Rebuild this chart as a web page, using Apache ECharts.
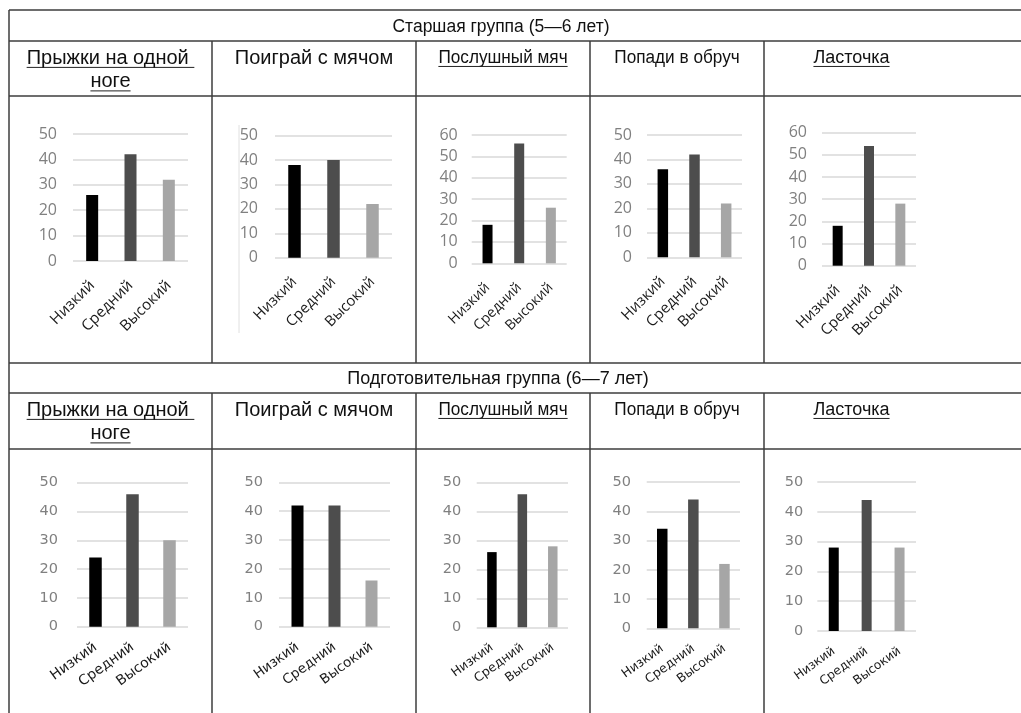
<!DOCTYPE html>
<html><head><meta charset="utf-8">
<script src="https://cdn.jsdelivr.net/npm/echarts@6/dist/echarts.min.js"></script>
<style>html,body{margin:0;padding:0;background:#fff}#c{width:1021px;height:713px}</style>
</head><body><div id="c"></div>
<script>
// ---- data ----
const categories = ['Низкий', 'Средний', 'Высокий'];
const groupTitles = ['Старшая группа (5—6 лет)', 'Подготовительная группа (6—7 лет)'];
const gameTitles = [['Прыжки на одной ', 'ноге'], ['Поиграй с мячом'], ['Послушный мяч'], ['Попади в обруч'], ['Ласточка']];
const gameUnderlined = [true, false, true, false, true];
const olderValues = [[26, 42, 32], [38, 40, 22], [18, 56, 26], [36, 42, 22], [18, 54, 28]];
const prepValues  = [[24, 46, 30], [42, 42, 16], [26, 46, 28], [34, 44, 22], [28, 44, 28]];
const olderMax = [50, 50, 60, 50, 60];
const prepMax  = [50, 50, 50, 50, 50];
const yInterval = 10;

// ---- layout / style ----
const barColors = ['#000000', '#4d4d4d', '#a6a6a6'];
const gridsTop = [
  {left: 73, top: 134, width: 115, height: 127, bw: 12, lm: 16, cf: 15.2},
  {left: 275, top: 135.7, width: 117, height: 122, bw: 12.5, lm: 17, cf: 14.8},
  {left: 471.7, top: 135, width: 95, height: 128.3, bw: 10, lm: 14, cf: 14.2},
  {left: 647, top: 135, width: 95, height: 122.3, bw: 10.5, lm: 15, cf: 15},
  {left: 822, top: 132.7, width: 94, height: 133, bw: 10, lm: 15, cf: 15}
];
const gridsBottom = [
  {left: 77, top: 482.7, width: 111, height: 144, bw: 12.5, lm: 19, cf: 14},
  {left: 279, top: 482.3, width: 111, height: 144.4, bw: 12, lm: 16, cf: 13.5},
  {left: 476.7, top: 482.7, width: 91.3, height: 144.6, bw: 9.5, lm: 15.5, cf: 12.5},
  {left: 646.7, top: 482, width: 93.3, height: 146.3, bw: 10.5, lm: 15.7, cf: 12.5},
  {left: 817.3, top: 482, width: 98.7, height: 149, bw: 10, lm: 14, cf: 12.2}
];
const colX = [9, 212, 416, 590, 764];
const colCenters = [110.5, 314, 503, 677, 851.5];
const titleFont = [20, 20, 18, 18, 18];
const titleScale = [1, 1, 0.955, 0.955, 1];
const lineColor = '#3c3c3c';

const grid = [], xAxis = [], yAxis = [], series = [];
function addChart(g, values, max, bottom) {
  const i = grid.length;
  grid.push({left: g.left, top: g.top, width: g.width, height: g.height, containLabel: false, outerBoundsMode: 'none'});
  xAxis.push({
    type: 'category', gridIndex: i, data: categories,
    axisLine: {show: false}, axisTick: {show: false},
    axisLabel: {
      interval: 0, rotate: bottom ? 36 : 45, margin: bottom ? 19 : 22,
      color: '#1a1a1a',
      fontFamily: bottom ? 'DejaVu Sans' : 'Open Sans',
      fontSize: g.cf
    }
  });
  yAxis.push({
    type: 'value', gridIndex: i, min: 0, max: max, interval: yInterval,
    axisLine: {show: false}, axisTick: {show: false},
    splitLine: {lineStyle: {color: '#d9d9d9', width: 1.5}},
    axisLabel: {
      margin: g.lm, color: '#808080',
      fontFamily: bottom ? 'DejaVu Sans' : 'Open Sans',
      fontSize: bottom ? 14.5 : 16
    }
  });
  series.push({
    type: 'bar', xAxisIndex: i, yAxisIndex: i, barWidth: g.bw,
    data: values.map((v, k) => ({value: v, itemStyle: {color: barColors[k]}})),
    silent: true
  });
}
gridsTop.forEach((g, k) => addChart(g, olderValues[k], olderMax[k], false));
gridsBottom.forEach((g, k) => addChart(g, prepValues[k], prepMax[k], true));

// ---- table graphics ----
const graphic = [];
const mctx = document.createElement('canvas').getContext('2d');
function hline(y) {
  graphic.push({type: 'line', shape: {x1: 9, y1: y, x2: 1021, y2: y}, style: {stroke: lineColor, lineWidth: 1.5}, silent: true});
}
function vline(x, y1, y2, color, w) {
  graphic.push({type: 'line', shape: {x1: x, y1: y1, x2: x, y2: y2}, style: {stroke: color || lineColor, lineWidth: w || 1.5}, silent: true});
}
function text(str, x, y, size, sx, underline) {
  const font = size + 'px "Liberation Sans"';
  graphic.push({type: 'text', x: x, y: y, scaleX: sx, silent: true,
    style: {text: str, font: font, fill: '#111', align: 'center', verticalAlign: 'middle'}});
  if (underline) {
    mctx.font = font;
    const w = mctx.measureText(str).width * sx;
    graphic.push({type: 'line', shape: {x1: x - w / 2, y1: y + size * 0.47, x2: x + w / 2, y2: y + size * 0.47},
      style: {stroke: '#222', lineWidth: 1}, silent: true});
  }
}
const blocks = [{top: 10, head: 41, titles: 96, end: 363}, {top: 363, head: 393, titles: 449, end: 713}];
const headFont = [17.5, 18];
blocks.forEach((b, bi) => {
  hline(b.top); hline(b.head); hline(b.titles);
  colX.forEach((x, ci) => { if (ci > 0) vline(x, b.head, b.end); });
  text(groupTitles[bi], bi === 0 ? 501 : 498, (b.top + b.head) / 2 + 1.5, headFont[bi], 1, false);
  gameTitles.forEach((lines, ci) => {
    lines.forEach((ln, li) => {
      text(ln, colCenters[ci], b.head + 17 + li * 23.5, titleFont[ci], titleScale[ci], gameUnderlined[ci]);
    });
  });
});
vline(9, 10, 713);
vline(239, 125, 333, '#e0e0e0', 1);

const chart = echarts.init(document.getElementById('c'), null, {renderer: 'canvas'});
chart.setOption({
  backgroundColor: '#ffffff',
  animation: false,
  grid: grid, xAxis: xAxis, yAxis: yAxis, series: series,
  graphic: graphic
});
</script>
</body></html>
